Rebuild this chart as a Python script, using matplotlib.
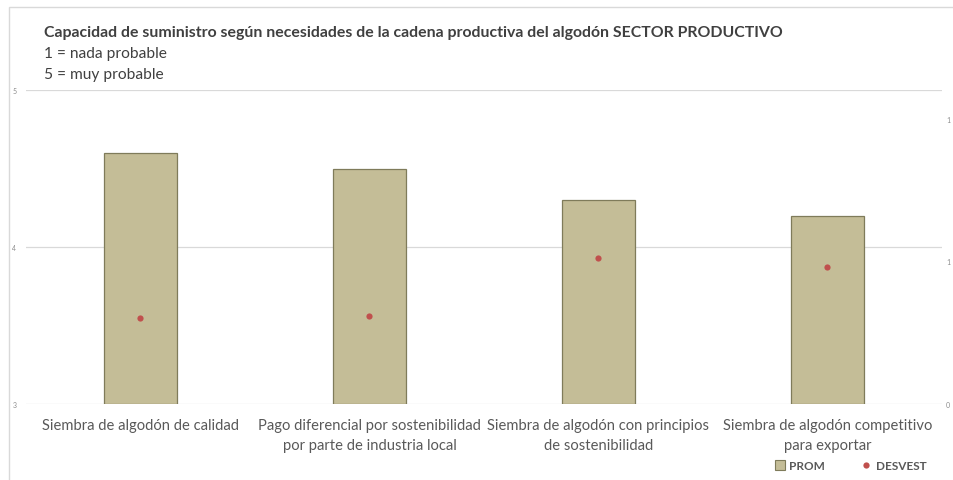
import matplotlib
matplotlib.use("Agg")
import matplotlib.pyplot as plt
from matplotlib.patches import Rectangle
from matplotlib.lines import Line2D
import numpy as np

categories = [
    "Siembra de algodón de calidad",
    "Pago diferencial por sostenibilidad\npor parte de industria local",
    "Siembra de algodón con principios\nde sostenibilidad",
    "Siembra de algodón competitivo\npara exportar",
]
prom = [4.6, 4.5, 4.3, 4.2]
desvest = [0.30, 0.31, 0.51, 0.48]
left_ticks = [3, 4, 5]
right_ticks = [0, 0.5, 1.0]
right_tick_labels = ["0", "1", "1"]

FONT = ["Lato", "DejaVu Sans"]
plt.rcParams["font.family"] = FONT

W, H = 954, 481
fig = plt.figure(figsize=(W / 100, H / 100), dpi=100)

# chart border (partially cropped)
fig.patches.append(Rectangle((9 / W, -0.1), 1.2, 1 - 8 / H + 0.1, transform=fig.transFigure,
                             fill=False, edgecolor="#D9D9D9", linewidth=1.0))

ax = fig.add_axes([26 / W, 1 - 405 / H, (942 - 26) / W, (405 - 91) / H])
x = np.arange(len(categories))
ax.bar(x, [p - 3 for p in prom], bottom=3, width=0.315, color="#C4BD97",
       edgecolor="#7F7B5A", linewidth=0.9, zorder=2)
ax.set_xlim(-0.5, len(categories) - 0.5)
ax.set_ylim(3, 5)
ax.set_yticks(left_ticks)
ax.set_yticklabels([str(t) for t in left_ticks])
ax.tick_params(axis="y", length=0, labelsize=5, labelcolor="#8C8C8C", pad=7)
ax.set_xticks(x)
ax.set_xticklabels(categories, fontsize=10.6, color="#595959", linespacing=1.6)
ax.tick_params(axis="x", length=0, pad=10)
ax.grid(axis="y", color="#D9D9D9", linewidth=0.9, zorder=0)
for s in ax.spines.values():
    s.set_visible(False)
ax.set_axisbelow(True)

ax2 = ax.twinx()
ax2.scatter(x, desvest, s=20, color="#C0504D", zorder=3, linewidths=0)
ax2.set_ylim(0, 1.1)
ax2.set_yticks(right_ticks)
ax2.set_yticklabels(right_tick_labels)
ax2.tick_params(axis="y", length=0, labelsize=5, labelcolor="#8C8C8C", pad=3)
for s in ax2.spines.values():
    s.set_visible(False)

# titles
fig.text(44 / W, 1 - 33 / H, "Capacidad de suministro según necesidades de la cadena productiva del algodón SECTOR PRODUCTIVO",
         fontsize=11.4, fontweight="bold", color="#404040", va="center", ha="left")
fig.text(44 / W, 1 - 54 / H, "1 = nada probable", fontsize=11.2, color="#404040", va="center", ha="left")
fig.text(44 / W, 1 - 75 / H, "5 = muy probable", fontsize=11.2, color="#404040", va="center", ha="left")

# legend
handles = [
    Line2D([], [], marker="s", linestyle="none", markersize=6.5, markerfacecolor="#C4BD97",
           markeredgecolor="#7F7B5A", markeredgewidth=0.8, label="PROM"),
    Line2D([], [], marker="o", linestyle="none", markersize=4.5, markerfacecolor="#C0504D",
           markeredgecolor="none", label="DESVEST"),
]
leg = fig.legend(handles=handles, loc="center", bbox_to_anchor=(850 / W, 1 - 467 / H), ncol=2,
                 frameon=False, fontsize=8.5, columnspacing=3.0, handletextpad=0.3, handlelength=1.0)
for t in leg.get_texts():
    t.set_color("#595959")
    t.set_fontweight("bold")

fig.savefig("out.png", dpi=100)
